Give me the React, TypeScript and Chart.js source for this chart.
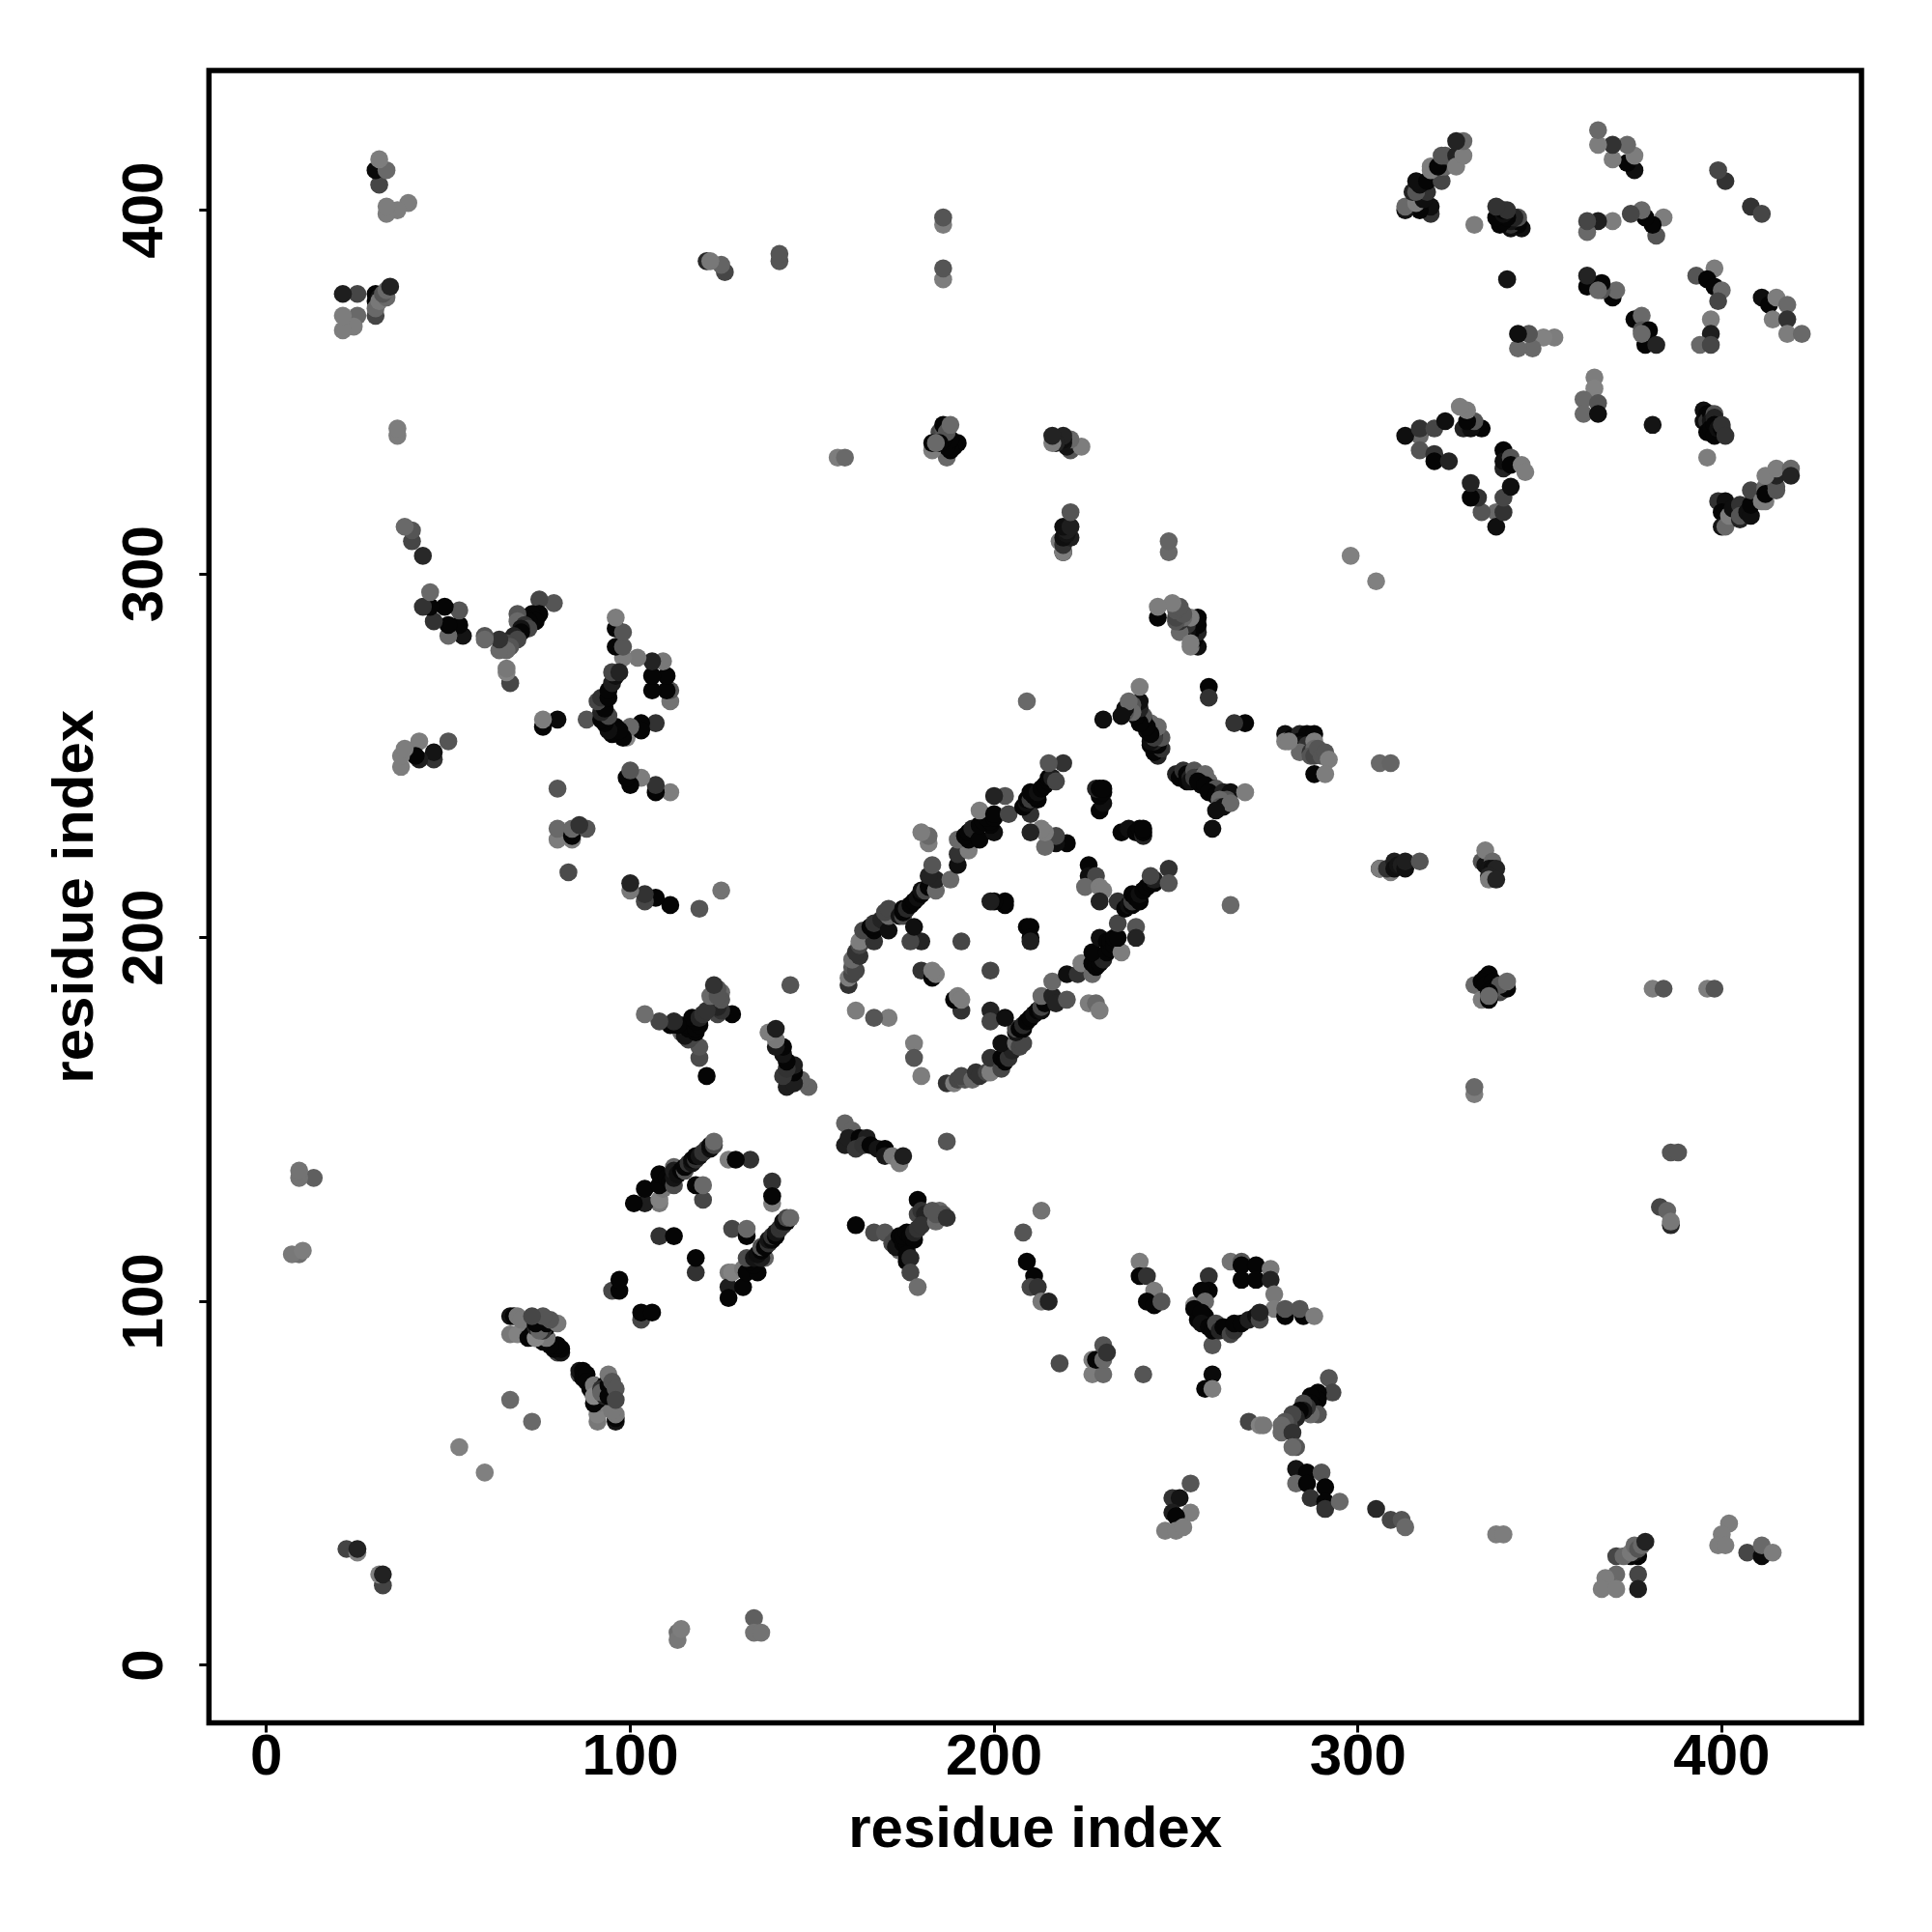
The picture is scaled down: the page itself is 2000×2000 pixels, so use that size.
import React, { useEffect, useRef } from "react";
import { Chart, registerables } from "chart.js";

Chart.register(...registerables);

// Each contact: [residue i, residue j, grey level]. The map is symmetric, so one triangle is listed.
const farContacts = [[113,9,110],[113,7,120],[114,10,125],[134,13,95],[134,9,115],[136,9,115],[32,22,68],[31,25,128],[32,25,34],[73,67,105],[60,53,128],[305,298,128],[338,36,125],[340,36,125],[386,141,85],[388,141,85],[332,157,125],[332,159,105],[381,186,125],[384,186,85],[396,186,125],[398,186,85],[306,248,105],[309,248,100],[265,209,105],[187,144,85],[396,332,125],[381,341,20],[213,125,115],[208,119,85],[218,83,75],[241,80,85],[260,88,85]];
const helixA = [[91,67,120],[91,69,130],[96,67,20],[96,68,5],[96,69,120],[91,72,125],[95,70,120],[86,80,68],[86,81,20],[87,81,5],[87,79,5],[88,80,5],[88,78,5],[89,76,5],[90,77,5],[90,74,5],[90,72,5],[91,73,5],[90,77,120],[90,74,135],[93,74,35],[93,77,5],[92,76,50],[92,75,100],[94,77,5],[94,74,5],[94,80,120],[95,78,85],[96,76,85],[96,73,70],[103,95,70],[103,97,5],[106,97,5]];
const strandB = [[127,108,120],[127,104,30],[127,101,5],[131,104,5],[128,108,130],[131,109,120],[132,108,5],[135,108,5],[134,110,5],[133,111,5],[132,112,75],[137,112,100],[134,112,20],[136,112,30],[135,113,15],[136,114,5],[136,115,80],[137,115,5],[138,116,50],[138,117,20],[139,117,10],[139,118,50],[140,118,5],[140,119,20],[141,120,50],[142,121,50],[142,122,15],[143,122,10],[143,123,70],[144,123,105],[128,120,70],[132,118,5],[132,120,105],[118,108,50],[118,112,5],[139,133,50],[139,127,125],[139,129,5]];
const strandC = [[159,149,100],[161,147,100],[159,143,30],[160,145,30],[163,145,5],[165,145,30],[162,142,55],[164,143,50],[166,143,5],[168,142,20],[170,142,5],[170,140,25],[172,140,120],[174,138,125],[175,140,30]];
const junctionD = [[162,121,5],[167,119,75],[170,119,85],[173,117,70],[172,116,70],[174,114,105],[173,115,20],[176,114,30],[174,118,5],[175,116,5],[176,116,5],[175,118,5],[176,119,5],[177,118,5],[178,117,5],[178,119,35],[176,111,5],[176,113,5],[177,112,40],[177,108,70],[179,104,110],[179,120,50],[179,128,5],[179,124,70],[180,125,50],[181,124,35],[180,121,50],[184,122,105],[185,125,105],[183,125,85],[185,123,105],[186,124,85],[184,124,85],[187,123,50]];
const strandE = [[209,111,5],[211,107,5],[210,104,70],[212,104,50],[213,100,120],[215,100,35],[240,111,125],[240,107,5],[242,107,50],[244,103,125],[242,100,5],[244,99,5],[246,100,85]];
const ringF = [[265,111,115],[268,111,85],[268,110,5],[272,110,5],[268,106,5],[272,106,5],[276,109,120],[276,106,35],[277,102,120],[277,98,125],[280,96,5],[280,98,85],[285,96,5],[284,98,85],[288,96,125],[255,99,135],[259,107,50],[259,103,5],[257,103,5],[258,100,105],[255,98,5],[256,95,5],[258,96,5],[257,97,5],[257,94,15],[259,93,5],[260,92,5],[261,94,70],[262,92,35],[263,93,5],[265,91,70],[266,92,50],[266,94,5],[268,94,5],[270,95,30],[272,96,15],[273,95,70],[273,97,35]];
const patchG = [[227,84,125],[227,80,125],[230,80,105],[228,84,5],[230,84,105],[230,88,85],[231,86,50],[260,80,10],[258,76,5],[260,76,125]];
const junctionH = [[292,79,85],[293,75,70],[289,75,5],[289,73,5],[287,74,5],[288,71,5],[287,72,5],[289,69,85],[287,69,105],[286,71,50],[285,72,70],[285,70,20],[284,70,5],[283,68,35],[282,69,70],[281,66,70],[280,67,85],[279,66,105],[279,64,105],[282,64,50],[283,60,85],[282,60,105],[270,67,70],[273,66,130],[274,66,120]];
const patchI = [[283,54,20],[286,53,5],[290,53,85],[283,50,105],[286,50,5],[287,46,50],[291,49,5],[291,45,5],[291,43,50],[295,45,105],[305,43,40],[309,40,70],[312,40,85],[313,38,105]];
const patchJ = [[254,50,85],[249,46,50],[251,46,20],[249,42,30],[254,42,125],[250,41,5],[247,37,125],[250,37,125],[252,38,125]];
const patchK = [[383,126,70],[385,125,100],[386,121,40],[386,122,120],[371,30,70],[377,30,5],[375,30,5],[376,31,20],[373,30,105],[375,31,120],[376,33,105],[377,32,85],[378,33,105],[379,34,34],[377,25,70],[377,21,30],[371,25,105],[368,24,125],[367,21,125],[371,21,125],[402,39,125],[400,36,125],[399,33,125],[401,33,125],[407,31,70],[411,30,10],[411,33,105],[414,31,125]];
const patchL = [[306,219,5],[306,219,125],[309,218,125],[308,219,50],[310,221,30],[310,219,15],[311,220,20],[312,220,30],[313,219,15],[313,221,30],[317,221,85],[334,221,85],[335,220,20],[335,224,125],[337,221,105],[336,219,20],[337,219,15],[338,219,35],[336,217,35],[336,216,125],[338,216,35],[332,187,105],[336,190,5],[335,189,5],[334,188,5],[335,187,5],[337,188,5],[337,186,5],[339,185,70],[340,186,85],[341,186,5],[339,187,85],[341,188,105],[334,183,125],[336,185,5],[336,183,5],[336,184,105]];
const latticeM = [[187,160,50],[189,160,125],[190,161,70],[192,161,85],[191,162,70],[194,161,105],[195,163,50],[196,162,50],[198,163,70],[199,163,125],[199,167,50],[202,164,70],[202,167,5],[203,166,5],[204,167,50],[205,169,35],[202,171,15],[206,171,105],[207,170,70],[208,171,70],[206,174,20],[206,175,70],[207,175,5],[208,175,5],[208,176,40],[209,177,5],[210,178,5],[211,179,15],[212,180,5],[213,180,15],[213,181,70],[214,182,5],[213,184,105],[216,184,35],[216,188,105],[217,182,35],[220,183,85],[220,190,15],[223,190,50],[224,193,125],[227,190,105],[227,193,5],[228,192,5],[229,193,5],[230,194,35],[227,196,5],[229,200,15],[231,199,5],[231,196,5],[232,197,5],[232,199,5],[233,198,5],[233,200,5],[235,196,125],[234,200,5],[234,204,70],[239,203,85],[239,200,35],[234,210,50],[236,208,5],[237,209,15],[238,209,5],[238,210,60],[238,212,5],[239,211,5],[240,210,5],[240,212,15],[241,213,5],[242,214,5],[243,215,5],[244,215,5],[244,216,30],[243,217,70],[248,219,50],[248,215,85]];
const innerN = [[199,180,35],[199,177,70],[203,178,15],[191,180,50],[189,183,5],[190,184,125],[191,183,125],[199,191,70],[178,171,125],[178,167,85],[180,162,125],[209,203,5],[210,203,5],[210,200,5],[210,199,30],[226,220,5],[226,217,15],[228,217,70],[225,214,105],[229,214,125],[230,213,125],[229,210,35],[226,182,125],[228,182,105],[229,180,125],[235,229,5],[237,230,15],[239,229,5],[240,230,5],[241,228,35],[241,229,5],[241,230,5]];
const strandO = [[250,245,35],[251,244,5],[252,246,50],[253,245,5],[253,243,5],[254,244,35],[254,243,15],[255,246,85],[256,244,20],[255,244,60],[258,245,105],[259,243,105],[257,242,15],[256,243,5],[258,242,5],[260,241,5],[261,241,85],[259,240,5],[261,239,5],[263,240,35],[265,240,15],[269,240,125],[263,238,15],[264,238,85],[262,238,105],[262,236,85],[263,236,15],[265,237,105],[261,235,15],[260,230,15],[269,259,5],[266,259,50]];
const patchP = [[280,256,15],[280,254,125],[282,255,5],[284,256,35],[285,255,35],[286,256,5],[288,256,5],[284,254,5],[284,253,15],[286,253,50],[284,251,105],[281,254,125],[288,254,125],[287,251,50],[288,252,105],[287,250,85],[288,250,70],[289,252,85],[290,250,85],[291,251,85],[292,249,125],[288,245,5],[291,245,125]];
const blockQ = [[376,370,5],[378,371,105],[378,367,85],[380,367,5],[379,363,5],[382,363,35],[378,366,105],[365,354,125],[365,351,130],[362,348,105],[366,347,85],[362,344,105],[366,344,15],[393,382,85],[398,384,125],[396,381,5],[398,379,5],[400,378,105],[399,375,70],[397,370,125],[397,366,30],[394,363,105],[397,363,70],[408,401,50],[411,399,70],[411,376,15],[413,374,5],[415,376,125],[414,370,125],[418,374,105],[418,370,50],[418,366,125],[422,366,105]];
const strandR = [[395,345,15],[395,342,15],[396,344,5],[396,342,50],[396,339,5],[397,344,5],[397,342,20],[397,340,5],[398,344,80],[398,343,35],[398,341,5],[398,338,5],[399,340,15],[400,340,5],[400,341,50],[401,338,50],[340,329,35],[338,317,105],[338,313,15],[340,317,50],[334,317,85],[333,321,50],[331,321,5],[331,325,35],[340,321,70],[342,324,15],[340,334,5],[340,331,15],[342,332,85],[342,330,5],[345,330,125],[346,328,125]];
const patchS = [[399,320,50],[401,320,15],[400,317,5],[400,313,20],[401,313,105],[402,316,125],[403,318,15],[405,315,35],[405,317,20],[405,319,50],[405,316,85],[407,317,15],[408,316,15],[408,319,5],[408,323,70],[411,320,125],[412,320,125],[412,323,125],[412,324,105],[412,322,5],[415,324,85],[415,323,85],[415,327,35],[412,327,125],[415,329,125],[419,329,105],[419,327,35]];

const contactGroups = [farContacts, helixA, strandB, strandC, junctionD, strandE, ringF, patchG, junctionH, patchI, patchJ, patchK, patchL, latticeM, innerN, strandO, patchP, blockQ, strandR, patchS];
const axisTicks = [0, 100, 200, 300, 400];
const axisTitle = "residue index";
const axisMin = -15.8;
const axisMax = 438.4;

const FONT_FAMILY = "'Liberation Sans', Arial, sans-serif";

export default function App() {
  const ref = useRef<HTMLCanvasElement>(null);
  useEffect(() => {
    const contacts = contactGroups.flat();
    const points = contacts.flatMap(([i, j]) => [{ x: i, y: j }, { x: j, y: i }]);
    const colours = contacts.flatMap(([, , g]) => {
      const c = `rgb(${g},${g},${g})`;
      return [c, c];
    });
    const setTicks = (scale: any) => {
      scale.ticks = axisTicks.map((value) => ({ value }));
    };
    const font = { family: FONT_FAMILY, size: 60, weight: "bold" as const, lineHeight: 1 };
    const tickMarks = { display: true, drawOnChartArea: false, drawTicks: true, tickLength: 10, tickWidth: 3, tickColor: "#000" };
    const frame = {
      id: "frame",
      afterDraw(chart: any) {
        const { ctx, chartArea: a } = chart;
        ctx.save();
        ctx.strokeStyle = "#000";
        ctx.lineWidth = 5.5;
        ctx.lineJoin = "miter";
        ctx.strokeRect(a.left, a.top, a.right - a.left, a.bottom - a.top);
        ctx.restore();
      },
    };
    const chart = new Chart(ref.current!, {
      type: "scatter",
      data: {
        datasets: [
          {
            data: points,
            backgroundColor: colours,
            pointBackgroundColor: colours,
            pointBorderWidth: 0,
            pointRadius: 9.3,
          } as any,
        ],
      },
      options: {
        animation: false,
        responsive: false,
        layout: { padding: { top: 73, right: 73, left: 0, bottom: 0 } },
        plugins: { legend: { display: false }, tooltip: { enabled: false } },
        scales: {
          x: {
            type: "linear",
            min: axisMin,
            max: axisMax,
            afterBuildTicks: setTicks,
            afterFit: (s: any) => { s.height = 216.5; },
            grid: tickMarks,
            border: { display: false },
            ticks: { color: "#000", font, padding: -3, maxRotation: 0, minRotation: 0, autoSkip: false },
            title: { display: true, text: axisTitle, color: "#000", font, padding: { top: 0, bottom: 75 } },
          },
          y: {
            type: "linear",
            min: axisMin,
            max: axisMax,
            afterBuildTicks: setTicks,
            afterFit: (s: any) => { s.width = 216.3; },
            grid: tickMarks,
            border: { display: false },
            ticks: { color: "#000", font, padding: 5, minRotation: 90, maxRotation: 90, crossAlign: "center", autoSkip: false },
            title: { display: true, text: axisTitle, color: "#000", font, padding: { top: 49, bottom: 49 } },
          },
        },
      },
      plugins: [frame],
    } as any);
    return () => chart.destroy();
  }, []);
  return (
    <canvas
      ref={ref}
      width={2000}
      height={2000}
      style={{ position: "absolute", left: 0, top: 0, width: 2000, height: 2000, display: "block" }}
    />
  );
}
